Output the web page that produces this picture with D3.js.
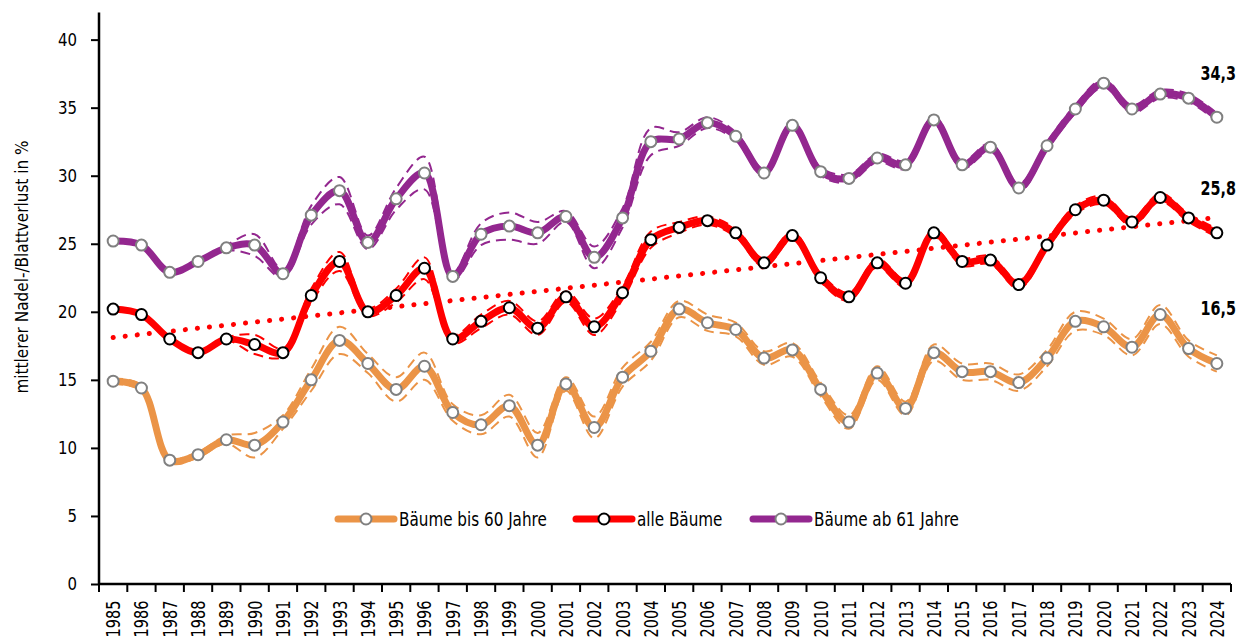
<!DOCTYPE html>
<html>
<head>
<meta charset="utf-8">
<script src="https://cdn.jsdelivr.net/npm/d3@7"></script>
<style>
  body { margin: 0; background: #fff; }
  svg text { font-family: "DejaVu Sans Condensed", "Liberation Sans Narrow", sans-serif; fill: #000; }
</style>
</head>
<body>
<div id="chart"></div>
<script>
// data
const years = d3.range(1985, 2025).map(String);
const yTicks = [0, 5, 10, 15, 20, 25, 30, 35, 40];

const jung = [14.9, 14.4, 9.1, 9.5, 10.6, 10.2, 11.9, 15.0, 17.9, 16.2,
              14.3, 16.0, 12.6, 11.7, 13.1, 10.2, 14.7, 11.5, 15.2, 17.1,
              20.2, 19.2, 18.7, 16.6, 17.2, 14.3, 11.9, 15.5, 12.9, 17.0,
              15.6, 15.6, 14.8, 16.6, 19.3, 18.9, 17.4, 19.8, 17.3, 16.2];
const alle = [20.2, 19.8, 18.0, 17.0, 18.0, 17.6, 17.0, 21.2, 23.7, 20.0,
              21.2, 23.2, 18.0, 19.3, 20.3, 18.8, 21.1, 18.9, 21.4, 25.3,
              26.2, 26.7, 25.8, 23.6, 25.6, 22.5, 21.1, 23.6, 22.1, 25.8,
              23.7, 23.8, 22.0, 24.9, 27.5, 28.2, 26.6, 28.4, 26.9, 25.8];
const alt  = [25.2, 24.9, 22.9, 23.7, 24.7, 24.9, 22.8, 27.1, 28.9, 25.1,
              28.3, 30.2, 22.6, 25.7, 26.3, 25.8, 27.0, 24.0, 26.9, 32.5,
              32.7, 33.9, 32.9, 30.2, 33.7, 30.3, 29.8, 31.3, 30.8, 34.1,
              30.8, 32.1, 29.1, 32.2, 34.9, 36.8, 34.9, 36.0, 35.7, 34.3];

// half width of the dashed confidence band
const jungCi = [0.2, 0.2, 0.2, 0.2, 0.3, 0.9, 0.5, 0.8, 1.0, 0.7,
                0.9, 1.0, 0.6, 0.7, 0.8, 0.9, 0.5, 0.8, 0.7, 0.7,
                0.6, 0.6, 0.5, 0.5, 0.5, 0.5, 0.5, 0.5, 0.5, 0.6,
                0.6, 0.6, 0.6, 0.6, 0.7, 0.6, 0.6, 0.7, 0.6, 0.6];
const alleCi = [0.0, 0.0, 0.0, 0.0, 0.1, 0.7, 0.3, 0.5, 0.7, 0.3,
                0.5, 0.8, 0.3, 0.5, 0.5, 0.5, 0.4, 0.6, 0.5, 0.6,
                0.4, 0.3, 0.3, 0.3, 0.3, 0.3, 0.3, 0.3, 0.3, 0.3,
                0.3, 0.3, 0.3, 0.3, 0.3, 0.3, 0.3, 0.3, 0.3, 0.3];
const altCi  = [0.0, 0.0, 0.0, 0.0, 0.2, 0.8, 0.3, 0.7, 1.0, 0.5,
                0.8, 1.2, 0.3, 0.8, 1.0, 0.8, 0.4, 0.8, 0.7, 1.0,
                0.5, 0.4, 0.3, 0.3, 0.3, 0.3, 0.3, 0.3, 0.3, 0.3,
                0.3, 0.3, 0.3, 0.3, 0.3, 0.3, 0.3, 0.3, 0.3, 0.3];

const endLabels = ["34,3", "25,8", "16,5"];
const endLabelValues = [37.05, 28.6, 19.8];

const series = [
  {name: "Bäume bis 60 Jahre", values: jung, ci: jungCi, color: "#EB9447", marker: "#808080"},
  {name: "alle Bäume", values: alle, ci: alleCi, color: "#FF0000", marker: "#000000"},
  {name: "Bäume ab 61 Jahre", values: alt, ci: altCi, color: "#93278F", marker: "#808080"}
];

const width = 1240, height = 639;
const svg = d3.select("#chart").append("svg")
  .attr("width", width).attr("height", height);

const x = d3.scaleBand().domain(years).range([99, 1231]);
const y = d3.scaleLinear().domain([0, 42]).range([584, 12.4]);
const cx = d => x(d) + x.bandwidth() / 2;

const line = d3.line()
  .x((d, i) => cx(years[i]))
  .y(d => y(d))
  .curve(d3.curveCatmullRom.alpha(0.5));

// trend of "alle Bäume" (least squares)
const idx = years.map((d, i) => i);
const mx = d3.mean(idx), my = d3.mean(alle);
const slope = d3.sum(idx, i => (i - mx) * (alle[i] - my)) / d3.sum(idx, i => (i - mx) * (i - mx));
const icpt = my - slope * mx;

// y axis
const yAxis = svg.append("g")
  .attr("transform", "translate(99,0)")
  .call(d3.axisLeft(y).tickValues(yTicks).tickSize(8));
yAxis.select(".domain").attr("stroke-width", 2.5).attr("d", `M0,${y(0)}V${y(42)}`);
yAxis.selectAll(".tick line").attr("stroke-width", 2);
yAxis.selectAll(".tick text")
  .attr("x", 0)
  .attr("transform", "translate(-22,0) scale(0.9,1)")
  .attr("font-size", 18.5);

svg.append("text")
  .attr("transform", "translate(28,267) rotate(-90)")
  .attr("text-anchor", "middle")
  .attr("font-size", 17)
  .text("mittlerer Nadel-/Blattverlust in %");

// x axis
const xAxis = svg.append("g").attr("transform", `translate(0,${y(0)})`);
xAxis.append("line")
  .attr("x1", 99).attr("x2", 1231).attr("stroke", "#000").attr("stroke-width", 2.5);
xAxis.selectAll(".xt")
  .data(years.concat(["end"]))
  .enter().append("line")
  .attr("x1", d => d === "end" ? x.range()[1] : x(d))
  .attr("x2", d => d === "end" ? x.range()[1] : x(d))
  .attr("y1", 0).attr("y2", 8)
  .attr("stroke", "#000").attr("stroke-width", 2);
xAxis.selectAll(".xl")
  .data(years)
  .enter().append("text")
  .attr("transform", d => `translate(${cx(d) + 7},16.5) rotate(-90) scale(0.85,1)`)
  .attr("text-anchor", "end")
  .attr("font-size", 19)
  .text(d => d);

// trend line
svg.append("line")
  .attr("x1", cx(years[0])).attr("y1", y(icpt))
  .attr("x2", cx(years[years.length - 1])).attr("y2", y(icpt + slope * (years.length - 1)))
  .attr("stroke", "#FF0000").attr("stroke-width", 5)
  .attr("stroke-linecap", "round").attr("stroke-dasharray", "0.1 12");

series.forEach(s => {
  const g = svg.append("g");
  g.append("path")
    .attr("d", line(s.values))
    .attr("fill", "none").attr("stroke", s.color)
    .attr("stroke-width", 7).attr("stroke-linejoin", "round");
  [1, -1].forEach(sign => {
    g.append("path")
      .attr("d", line(s.values.map((v, i) => v + sign * s.ci[i])))
      .attr("fill", "none").attr("stroke", s.color)
      .attr("stroke-width", 2).attr("stroke-dasharray", "10 6");
  });
  g.selectAll("circle")
    .data(s.values)
    .enter().append("circle")
    .attr("cx", (d, i) => cx(years[i]))
    .attr("cy", d => y(d))
    .attr("r", 5.5)
    .attr("fill", "#fff").attr("stroke", s.marker).attr("stroke-width", 2);
});

// end labels
svg.selectAll(".endl")
  .data(endLabels)
  .enter().append("text")
  .attr("transform", (d, i) => `translate(1236,${y(endLabelValues[i])}) scale(0.84,1)`)
  .attr("text-anchor", "end")
  .attr("font-size", 19).attr("font-weight", "bold")
  .text(d => d);

// legend
const legendX = [338, 576, 753];
const leg = svg.append("g").attr("transform", "translate(0,519)");
series.forEach((s, i) => {
  const lg = leg.append("g").attr("transform", `translate(${legendX[i]},0)`);
  lg.append("line").attr("x1", 0).attr("x2", 56)
    .attr("stroke", s.color).attr("stroke-width", 7).attr("stroke-linecap", "round");
  lg.append("circle").attr("cx", 28).attr("r", 5.5)
    .attr("fill", "#fff").attr("stroke", s.marker).attr("stroke-width", 2);
  lg.append("text")
    .attr("transform", "translate(61,0) scale(0.89,1)")
    .attr("dy", "0.35em")
    .attr("font-size", 19).text(s.name);
});
</script>
</body>
</html>
